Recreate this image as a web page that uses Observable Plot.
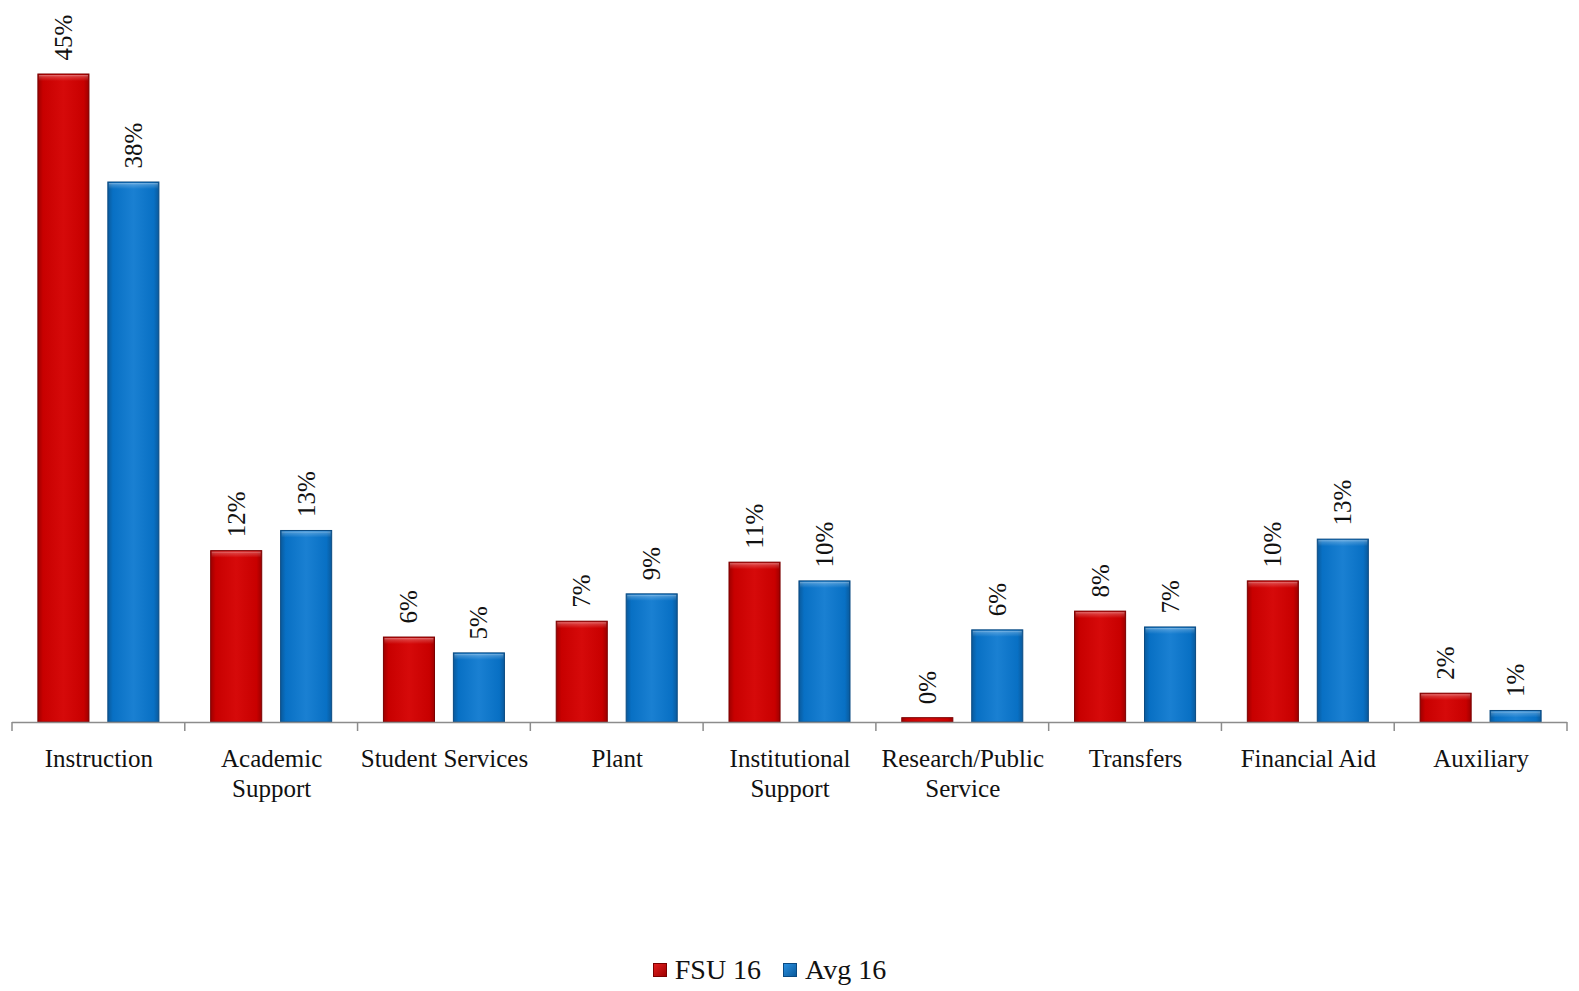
<!DOCTYPE html>
<html><head><meta charset="utf-8">
<script src="https://cdn.jsdelivr.net/npm/d3@7"></script>
<script src="https://cdn.jsdelivr.net/npm/@observablehq/plot@0.6"></script>
<style>
html,body{margin:0;padding:0;background:#fff;width:1579px;height:991px;overflow:hidden;font-family:"Liberation Serif",serif;}
#chart{height:800px;}
#chart svg{display:block;max-width:none;width:1579px;height:800px;}
#legend{display:flex;justify-content:center;align-items:center;gap:22px;margin-top:155px;height:30px;line-height:30px;font-size:28px;color:#111;padding-right:40px;}
#legend .item{display:flex;align-items:center;gap:8px;}
#legend .sw{width:14px;height:14px;display:inline-block;box-sizing:border-box;}
</style></head><body><div id="chart"></div><div id="legend"></div>
<script>
const categories = ["Instruction","Academic Support","Student Services","Plant","Institutional Support","Research/Public Service","Transfers","Financial Aid","Auxiliary"];
const tickLabels = ["Instruction","Academic\nSupport","Student Services","Plant","Institutional\nSupport","Research/Public\nService","Transfers","Financial Aid","Auxiliary"];
const series = ["FSU 16","Avg 16"];
const fsu = [45.0, 11.9, 5.9, 7.0, 11.1, 0.3, 7.7, 9.8, 2.0];
const avg = [37.5, 13.3, 4.8, 8.9, 9.8, 6.4, 6.6, 12.7, 0.8];

const data = categories.flatMap((c, i) => [
  {category: c, series: series[0], value: fsu[i]},
  {category: c, series: series[1], value: avg[i]}
]);
const fsuData = data.filter(d => d.series === series[0]);
const avgData = data.filter(d => d.series === series[1]);

const chart = Plot.plot({
  width: 1579, height: 800,
  marginLeft: 12, marginRight: 12, marginTop: 2, marginBottom: 78,
  style: {fontFamily: "Liberation Serif, serif", fontSize: "25px", color: "#111", background: "white", overflow: "visible"},
  fx: {domain: categories, padding: 0, round: false, label: null},
  x: {domain: series, paddingInner: 0.27, paddingOuter: 0.37, round: false, axis: null},
  y: {domain: [0, 50], axis: null},
  marks: [
    Plot.barY(fsuData, {fx: "category", x: "series", y: "value", fill: "url(#gradRed)", stroke: "#7a0000", strokeWidth: 1}),
    Plot.barY(avgData, {fx: "category", x: "series", y: "value", fill: "url(#gradBlue)", stroke: "#0a4a82", strokeWidth: 1}),
    Plot.barY(data.filter(d => d.value >= 0.6), {fx: "category", x: "series", y1: "value", y2: "value", insetBottom: -7, insetLeft: 1, insetRight: 1, insetTop: 1, fill: "url(#bevel)"}),
    Plot.ruleY([0], {stroke: "#8c8c8c", strokeWidth: 1.5}),
    Plot.text(data, {fx: "category", x: "series", y: "value", text: d => Math.round(d.value) + "%", rotate: -90, textAnchor: "start", dy: -14, fontSize: 25, fill: "#111"}),
    Plot.axisFx({anchor: "bottom", tickSize: 0, tickPadding: 23, fontSize: 25, lineHeight: 1.2, label: null,
      tickFormat: c => tickLabels[categories.indexOf(c)]})
  ]
});

const svg = d3.select(chart);
const defs = svg.insert("defs", ":first-child");
function grad(id, edge, mid, center) {
  const g = defs.append("linearGradient").attr("id", id).attr("x1", 0).attr("x2", 1).attr("y1", 0).attr("y2", 0);
  [[0, edge], [0.1, mid], [0.5, center], [0.9, mid], [1, edge]].forEach(([o, c]) =>
    g.append("stop").attr("offset", o).attr("stop-color", c));
}
grad("gradRed", "#9e0000", "#c80000", "#d60a0a");
grad("gradBlue", "#0a5a9c", "#0870c4", "#1a80d2");
const bv = defs.append("linearGradient").attr("id", "bevel").attr("x1", 0).attr("x2", 0).attr("y1", 0).attr("y2", 1);
[[0, 0.45], [0.3, 0.2], [1, 0]].forEach(([o, a]) =>
  bv.append("stop").attr("offset", o).attr("stop-color", "#fff").attr("stop-opacity", a));

// category boundary ticks on the axis
const fx = chart.scale("fx");
const y = chart.scale("y");
const y0 = y.apply(0);
const bounds = categories.map(c => fx.apply(c));
bounds.push(fx.apply(categories[categories.length - 1]) + fx.bandwidth);
svg.append("g").selectAll("line").data(bounds).join("line")
  .attr("x1", d => d).attr("x2", d => d)
  .attr("y1", y0).attr("y2", y0 + 9)
  .attr("stroke", "#8c8c8c").attr("stroke-width", 1.5);

document.getElementById("chart").appendChild(chart);

const legend = document.getElementById("legend");
const swatches = [
  "linear-gradient(135deg,#e02020,#a00000)",
  "linear-gradient(135deg,#2a90e0,#0a5a9c)"
];
series.forEach((s, i) => {
  const item = document.createElement("span");
  item.className = "item";
  const sw = document.createElement("span");
  sw.className = "sw";
  sw.style.background = swatches[i];
  sw.style.border = "1px solid " + (i === 0 ? "#7a0000" : "#0a4a82");
  item.appendChild(sw);
  item.appendChild(document.createTextNode(s));
  legend.appendChild(item);
});
</script>
</body></html>
